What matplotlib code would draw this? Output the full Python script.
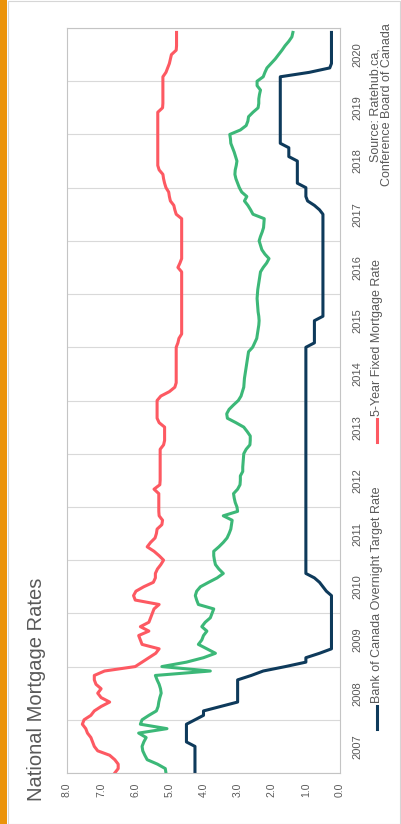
import matplotlib
matplotlib.use("Agg")
import matplotlib.pyplot as plt
from matplotlib.lines import Line2D
from matplotlib.patches import Rectangle
import numpy as np

plt.rcParams['font.family'] = ['Liberation Sans', 'DejaVu Sans']

# Monthly values, Jan 2007 .. Dec 2020 (one row per year)
overnight_rate = [
    4.25, 4.25, 4.25, 4.25, 4.25, 4.25, 4.25, 4.5, 4.5, 4.5, 4.5, 4.5,       # 2007
    4.25, 4.0, 4.0, 3.5, 3.0, 3.0, 3.0, 3.0, 3.0, 3.0, 2.6, 2.25,            # 2008
    1.6, 1.0, 1.0, 0.6, 0.25, 0.25, 0.25, 0.25, 0.25, 0.25, 0.25, 0.25,      # 2009
    0.25, 0.25, 0.25, 0.25, 0.25, 0.4, 0.5, 0.6, 0.75, 1.0, 1.0, 1.0,        # 2010
    1.0, 1.0, 1.0, 1.0, 1.0, 1.0, 1.0, 1.0, 1.0, 1.0, 1.0, 1.0,              # 2011
    1.0, 1.0, 1.0, 1.0, 1.0, 1.0, 1.0, 1.0, 1.0, 1.0, 1.0, 1.0,              # 2012
    1.0, 1.0, 1.0, 1.0, 1.0, 1.0, 1.0, 1.0, 1.0, 1.0, 1.0, 1.0,              # 2013
    1.0, 1.0, 1.0, 1.0, 1.0, 1.0, 1.0, 1.0, 1.0, 1.0, 1.0, 1.0,              # 2014
    1.0, 0.75, 0.75, 0.75, 0.75, 0.75, 0.75, 0.5, 0.5, 0.5, 0.5, 0.5,        # 2015
    0.5, 0.5, 0.5, 0.5, 0.5, 0.5, 0.5, 0.5, 0.5, 0.5, 0.5, 0.5,              # 2016
    0.5, 0.5, 0.5, 0.5, 0.5, 0.5, 0.5, 0.6, 0.75, 0.95, 1.0, 1.0,            # 2017
    1.0, 1.25, 1.25, 1.25, 1.25, 1.25, 1.25, 1.5, 1.5, 1.5, 1.75, 1.75,      # 2018
    1.75, 1.75, 1.75, 1.75, 1.75, 1.75, 1.75, 1.75, 1.75, 1.75, 1.75, 1.75,  # 2019
    1.75, 1.75, 0.9, 0.3, 0.25, 0.25, 0.25, 0.25, 0.25, 0.25, 0.25, 0.25,    # 2020
]

fixed_5yr = [
    6.6, 6.5, 6.5, 6.6, 6.75, 7.1, 7.2, 7.25, 7.3, 7.4, 7.45, 7.55,          # 2007
    7.5, 7.3, 7.2, 7.0, 6.75, 7.0, 7.1, 7.0, 7.15, 7.2, 7.2, 6.9,            # 2008
    6.0, 5.8, 5.6, 5.4, 5.3, 5.8, 5.85, 5.9, 5.6, 5.85, 5.6, 5.55,           # 2009
    5.5, 5.45, 5.3, 6.0, 6.05, 5.98, 5.75, 5.47, 5.41, 5.41, 5.35, 5.25,     # 2010
    5.17, 5.3, 5.45, 5.65, 5.55, 5.42, 5.38, 5.36, 5.22, 5.2, 5.3, 5.31,     # 2011
    5.31, 5.31, 5.31, 5.31, 5.45, 5.28, 5.27, 5.27, 5.27, 5.27, 5.27, 5.27,  # 2012
    5.27, 5.27, 5.17, 5.14, 5.14, 5.14, 5.14, 5.3, 5.36, 5.36, 5.36, 5.36,   # 2013
    5.36, 5.25, 5.0, 4.84, 4.8, 4.8, 4.8, 4.8, 4.8, 4.8, 4.8, 4.8,           # 2014
    4.8, 4.75, 4.72, 4.64, 4.64, 4.64, 4.64, 4.64, 4.64, 4.64, 4.64, 4.64,   # 2015
    4.64, 4.64, 4.64, 4.64, 4.64, 4.64, 4.75, 4.69, 4.64, 4.64, 4.64, 4.64,  # 2016
    4.64, 4.64, 4.64, 4.64, 4.64, 4.64, 4.8, 4.84, 4.87, 4.97, 5.0, 5.02,    # 2017
    5.1, 5.14, 5.17, 5.19, 5.3, 5.34, 5.34, 5.34, 5.34, 5.34, 5.34, 5.34,    # 2018
    5.34, 5.34, 5.34, 5.34, 5.34, 5.34, 5.2, 5.19, 5.19, 5.19, 5.19, 5.19,   # 2019
    5.19, 5.19, 5.1, 5.05, 5.0, 4.97, 4.94, 4.8, 4.79, 4.79, 4.79, 4.79,     # 2020
]

other_rate = [
    5.1, 5.12, 5.35, 5.65, 5.72, 5.78, 5.8, 5.75, 5.68, 5.9, 5.07, 5.85,     # 2007
    5.8, 5.6, 5.38, 5.33, 5.31, 5.28, 5.24, 5.26, 5.3, 5.36, 5.41, 3.8,      # 2008
    5.22, 4.5, 4.0, 3.65, 3.9, 4.15, 4.05, 4.0, 3.9, 4.05, 3.95, 3.8,        # 2009
    3.75, 3.7, 4.15, 4.2, 4.24, 4.2, 4.09, 3.85, 3.6, 3.42, 3.55, 3.65,      # 2010
    3.68, 3.7, 3.7, 3.55, 3.42, 3.31, 3.25, 3.2, 3.18, 3.16, 3.42, 3.0,      # 2011
    3.02, 3.07, 3.1, 3.12, 3.0, 2.93, 2.92, 2.92, 2.85, 2.85, 2.84, 2.83,    # 2012
    2.82, 2.75, 2.64, 2.63, 2.63, 2.72, 2.82, 3.05, 3.3, 3.32, 3.25, 3.12,   # 2013
    2.98, 2.9, 2.86, 2.82, 2.81, 2.8, 2.78, 2.76, 2.74, 2.72, 2.7, 2.68,     # 2014
    2.56, 2.5, 2.44, 2.42, 2.4, 2.38, 2.37, 2.38, 2.4, 2.41, 2.42, 2.43,     # 2015
    2.42, 2.41, 2.39, 2.37, 2.35, 2.33, 2.25, 2.15, 2.08, 2.2, 2.29, 2.33,   # 2016
    2.37, 2.33, 2.28, 2.24, 2.23, 2.22, 2.55, 2.62, 2.7, 2.8, 2.73, 2.88,    # 2017
    2.95, 3.0, 3.05, 3.08, 3.07, 3.04, 3.02, 3.06, 3.1, 3.15, 3.2, 3.21,     # 2018
    3.23, 2.92, 2.75, 2.7, 2.68, 2.55, 2.4, 2.38, 2.38, 2.36, 2.33, 2.43,    # 2019
    2.43, 2.25, 2.2, 2.14, 2.02, 1.9, 1.8, 1.7, 1.61, 1.5, 1.41, 1.38,       # 2020
]

years = list(range(2007, 2021))
value_ticks = [0.0, 1.0, 2.0, 3.0, 4.0, 5.0, 6.0, 7.0, 8.0]

dates = years[0] + np.arange(len(fixed_5yr)) / 12.0

navy = '#0e3a5b'
green = '#3cb878'
red = '#fd5962'
grey_txt = '#595959'

W, H = 401, 824
fig = plt.figure(figsize=(W / 100, H / 100), dpi=100)

# page frame + orange stripe
fig.add_artist(Rectangle((7.5 / W, 0.5 / H), 1 - 8.5 / W, 1 - 1.5 / H, transform=fig.transFigure,
                         fill=False, edgecolor='#d6d6d6', lw=0.8))
fig.add_artist(Rectangle((0, 0), 7 / W, 1, transform=fig.transFigure, color='#eb930a', lw=0))

ax = fig.add_axes([67 / W, 1 - 773 / H, (340 - 67) / W, (773 - 28) / H])

# chart is rotated: values run right-to-left along x, time runs up along y
ax.plot(other_rate, dates, color=green, lw=2.2, solid_joinstyle='round')
ax.plot(fixed_5yr, dates, color=red, lw=2.2, solid_joinstyle='round')
ax.plot(overnight_rate, dates, color=navy, lw=2.2, solid_joinstyle='round')

ax.set_xlim(8, 0)
ax.set_ylim(years[0], years[-1] + 1)

ax.set_xticks(value_ticks)
ax.set_xticklabels(['{0:.1f}'.format(v) for v in value_ticks], rotation=90, color=grey_txt, fontsize=7.5)

ax.yaxis.tick_right()
ax.set_yticks(years + [years[-1] + 1])
ax.set_yticklabels([])
ax.set_yticks([y + 0.5 for y in years], minor=True)
ax.set_yticklabels([str(y) for y in years], minor=True, rotation=90, va='center', color=grey_txt, fontsize=8)
ax.tick_params(axis='both', which='both', length=0)
ax.tick_params(axis='x', pad=7)
ax.tick_params(axis='y', which='minor', pad=9)
ax.grid(axis='y', which='major', color='#d9d9d9', lw=0.8)
for sp in ax.spines.values():
    sp.set_color('#c4c4c4')
    sp.set_linewidth(0.8)

# title
fig.text(37 / W, 1 - 801 / H, 'National Mortgage Rates', rotation=90, ha='center', va='bottom',
         fontsize=14.5, color=grey_txt)

# source note
fig.text(381 / W, 1 - 105 / H, 'Source: Ratehub.ca,\nConference Board of Canada', rotation=90,
         ha='center', va='center', multialignment='center', fontsize=9, color=grey_txt, linespacing=1.0)

# legend (rotated)
fig.add_artist(Line2D([377 / W, 377 / W], [1 - 729 / H, 1 - 706 / H], transform=fig.transFigure,
                      color=navy, lw=2.2))
fig.text(377 / W, 1 - 703 / H, 'Bank of Canada Overnight Target Rate', rotation=90, ha='center',
         va='bottom', fontsize=9, color=grey_txt)
fig.add_artist(Line2D([377 / W, 377 / W], [1 - 442 / H, 1 - 419 / H], transform=fig.transFigure,
                      color=red, lw=2.2))
fig.text(377 / W, 1 - 416 / H, '5-Year Fixed Mortgage Rate', rotation=90, ha='center',
         va='bottom', fontsize=9, color=grey_txt)

fig.savefig('out.png', dpi=100)
